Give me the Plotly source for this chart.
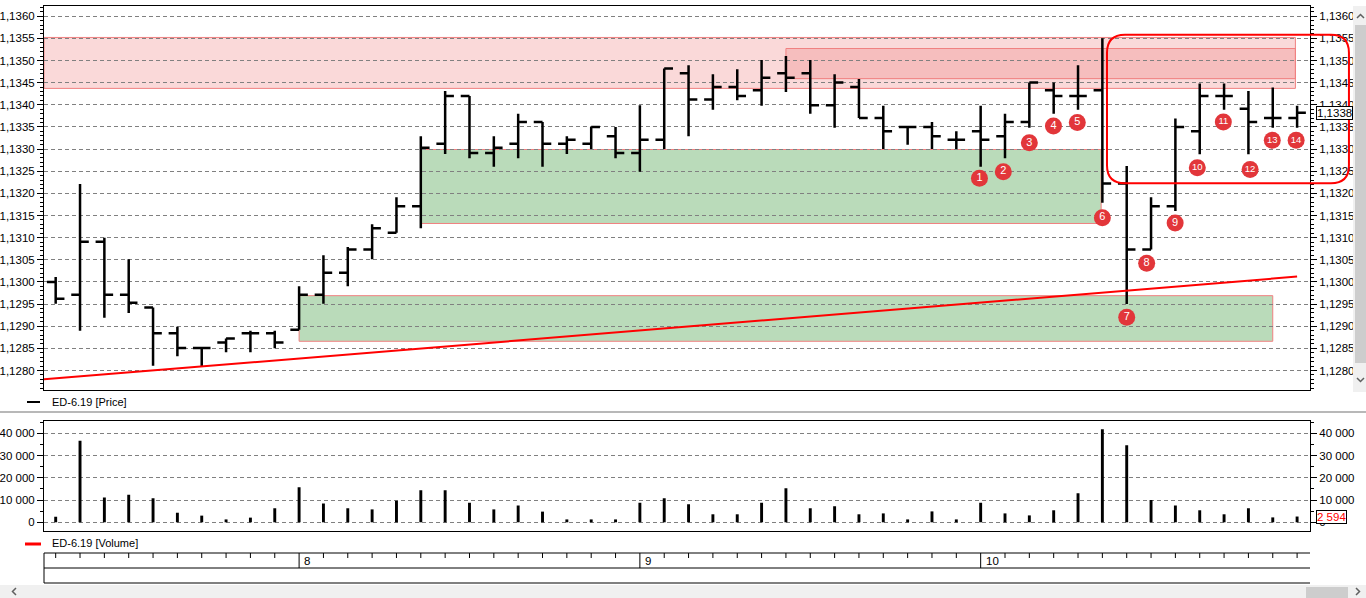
import plotly.graph_objects as go

# ---------------- data (hourly bars, ED-6.19) ----------------
bar_index = list(range(52))
opens = [1.13000, 1.12971, 1.13091, 1.12971, 1.12942, 1.12884, 1.12851, 1.12863, 1.12884, 1.12884,
         1.12892, 1.12971, 1.13021, 1.13073, 1.13111, 1.13171, 1.13312, 1.13420, 1.13291, 1.13312,
         1.13361, 1.13312, 1.13312, 1.13329, 1.13291, 1.13321, 1.13471, 1.13412, 1.13440, 1.13433,
         1.13471, 1.13471, 1.13399, 1.13440, 1.13370, 1.13350, 1.13350, 1.13321, 1.13340, 1.13329,
         1.13361, 1.13433, 1.13420, 1.13433, 1.13222, 1.13073, 1.13171, 1.13340, 1.13420, 1.13391,
         1.13370, 1.13370]
highs = [1.13011, 1.13221, 1.13100, 1.13051, 1.12942, 1.12899, 1.12851, 1.12872, 1.12890, 1.12890,
         1.12990, 1.13060, 1.13079, 1.13130, 1.13191, 1.13329, 1.13431, 1.13420, 1.13329, 1.13380,
         1.13361, 1.13329, 1.13350, 1.13350, 1.13399, 1.13482, 1.13489, 1.13469, 1.13480, 1.13501,
         1.13510, 1.13501, 1.13469, 1.13458, 1.13398, 1.13350, 1.13361, 1.13340, 1.13398, 1.13380,
         1.13450, 1.13450, 1.13489, 1.13550, 1.13262, 1.13191, 1.13369, 1.13448, 1.13448, 1.13431,
         1.13439, 1.13398]
lows = [1.12951, 1.12890, 1.12919, 1.12930, 1.12811, 1.12832, 1.12808, 1.12841, 1.12841, 1.12850,
        1.12892, 1.12951, 1.12990, 1.13051, 1.13111, 1.13121, 1.13289, 1.13279, 1.13260, 1.13279,
        1.13260, 1.13289, 1.13300, 1.13279, 1.13249, 1.13300, 1.13329, 1.13389, 1.13410, 1.13398,
        1.13429, 1.13380, 1.13348, 1.13370, 1.13300, 1.13310, 1.13300, 1.13300, 1.13260, 1.13279,
        1.13348, 1.13380, 1.13389, 1.13179, 1.12950, 1.13073, 1.13160, 1.13288, 1.13389, 1.13288,
        1.13348, 1.13348]
closes = [1.12962, 1.13091, 1.12971, 1.12953, 1.12884, 1.12851, 1.12851, 1.12872, 1.12884, 1.12863,
          1.12971, 1.13021, 1.13073, 1.13121, 1.13171, 1.13303, 1.13420, 1.13291, 1.13303, 1.13361,
          1.13312, 1.13321, 1.13350, 1.13291, 1.13321, 1.13482, 1.13412, 1.13440, 1.13420, 1.13461,
          1.13461, 1.13399, 1.13450, 1.13370, 1.13340, 1.13350, 1.13329, 1.13321, 1.13321, 1.13361,
          1.13450, 1.13420, 1.13420, 1.13222, 1.13073, 1.13171, 1.13350, 1.13420, 1.13420, 1.13361,
          1.13370, 1.13382]
volumes = [2500, 36700, 11200, 12400, 10800, 4300, 3000, 1300, 2100, 6300,
           15700, 8400, 6300, 5800, 9700, 14400, 14400, 8800, 5800, 7500,
           4800, 1300, 1300, 1300, 8800, 10800, 8100, 3600, 3600, 8800,
           15300, 6300, 7200, 3600, 4000, 1300, 4900, 1300, 8800, 4000,
           3100, 5400, 13000, 41800, 34600, 10000, 7600, 5400, 3600, 6300,
           2200, 2594]
day_start_bars = [10, 24, 38]
day_labels = ["8", "9", "10"]

marker_x = [37.95, 38.93, 40.0, 40.99, 41.97, 43.0, 44.0, 44.82, 45.99, 46.9, 47.97, 49.07, 49.98, 50.96]
marker_y = [1.13234, 1.13249, 1.13314, 1.13352, 1.13360, 1.13145, 1.12920, 1.13042, 1.13133,
            1.13258, 1.13361, 1.13254, 1.13320, 1.13320]
marker_labels = ["1", "2", "3", "4", "5", "6", "7", "8", "9", "10", "11", "12", "13", "14"]

trend_x = [-0.48, 51.0]
trend_y = [1.12780, 1.13012]

# zones: (x0, x1, y0, y1)
resist_zone = (-0.48, 50.93, 1.13437, 1.13552)
resist_zone_inner = (30.0, 50.93, 1.13459, 1.13527)
support_zone_1 = (15.0, 42.95, 1.13132, 1.13299)
support_zone_2 = (10.0, 50.0, 1.12866, 1.12969)
highlight_box = (43.19, 53.13, 1.13223, 1.13558)

last_price = 1.13382
last_price_text = "1,1338"
last_volume_text = "2 594"

# ---------------- layout geometry ----------------
W, H = 1366, 598
ML, MR, MT, MB = 44, 56, 6, 67
PW, PH = W - ML - MR, H - MT - MB
X_RANGE = [-0.48, 51.53]
PRICE_RANGE = [1.12756, 1.13623]
VOL_RANGE = [-3910, 45660]


def px_x(px):
    return (px - ML) / PW


def px_y(py):
    return (H - MB - py) / PH


price_dom = [px_y(390), 1.0]
vol_dom = [0.0, px_y(420.7)]

FONT = "Liberation Sans, Arial, sans-serif"
GRID = "#808080"

fig = go.Figure()

fig.add_trace(go.Ohlc(
    x=bar_index, open=opens, high=highs, low=lows, close=closes,
    increasing=dict(line=dict(color="black", width=2.5)),
    decreasing=dict(line=dict(color="black", width=2.5)),
    line=dict(width=2.5), tickwidth=0.36,
    xaxis="x", yaxis="y", hoverinfo="skip", showlegend=False))

fig.add_trace(go.Scatter(
    x=trend_x, y=trend_y, mode="lines", line=dict(color="#ff0000", width=2),
    xaxis="x", yaxis="y", hoverinfo="skip", showlegend=False))

fig.add_trace(go.Scatter(
    x=marker_x, y=marker_y, mode="markers+text", text=marker_labels,
    textposition="middle center",
    textfont=dict(color="white", size=[11 if len(t) == 1 else 9.5 for t in marker_labels], family=FONT),
    marker=dict(size=17, color="#e2363a", line=dict(width=0)),
    xaxis="x", yaxis="y", hoverinfo="skip", showlegend=False, cliponaxis=False))

fig.add_trace(go.Scatter(
    x=[bar_index[-1]], y=[closes[-1]], mode="markers", marker=dict(opacity=0),
    xaxis="x", yaxis="y3", hoverinfo="skip", showlegend=False))

fig.add_trace(go.Bar(
    x=bar_index, y=volumes, width=0.12, marker=dict(color="black", line=dict(width=0)),
    xaxis="x2", yaxis="y2", hoverinfo="skip", showlegend=False))

fig.add_trace(go.Scatter(
    x=[bar_index[-1]], y=[volumes[-1]], mode="markers", marker=dict(opacity=0),
    xaxis="x2", yaxis="y4", hoverinfo="skip", showlegend=False))

tickfont = dict(family=FONT, size=11.5, color="black")

price_axis_common = dict(
    range=PRICE_RANGE, tickformat=".4f", tick0=1.128, dtick=0.0005,
    ticks="outside", ticklen=6, tickcolor="black", tickwidth=1,
    minor=dict(dtick=0.0001, tick0=1.128, ticks="outside", ticklen=3, tickcolor="black", showgrid=False),
    showline=True, linecolor="black", linewidth=1, zeroline=False, automargin=False,
    tickfont=tickfont, fixedrange=True)

vol_axis_common = dict(
    range=VOL_RANGE, tickformat=",d", tick0=0, dtick=10000,
    ticks="outside", ticklen=6, tickcolor="black", tickwidth=1,
    minor=dict(dtick=5000, tick0=0, ticks="outside", ticklen=3, tickcolor="black", showgrid=False),
    showline=True, linecolor="black", linewidth=1, zeroline=False, automargin=False,
    tickfont=tickfont, fixedrange=True)

fig.update_layout(
    width=W, height=H,
    margin=dict(l=ML, r=MR, t=MT, b=MB, pad=0, autoexpand=False),
    paper_bgcolor="white", plot_bgcolor="white",
    separators=", ",
    showlegend=False, hovermode=False, dragmode=False,
    font=dict(family=FONT, size=11.5, color="black"),
    xaxis=dict(domain=[0, 1], range=X_RANGE, anchor="y", showline=True, mirror=True,
               linecolor="black", linewidth=1, showticklabels=False, ticks="", automargin=False,
               showgrid=False, zeroline=False, rangeslider=dict(visible=False), fixedrange=True),
    xaxis2=dict(domain=[0, 1], range=X_RANGE, anchor="y2", matches="x", showline=True, mirror=True,
                linecolor="black", linewidth=1, showticklabels=False, ticks="", automargin=False,
                showgrid=False, zeroline=False, fixedrange=True),
    yaxis=dict(domain=price_dom, anchor="x", side="left", showgrid=True, gridcolor=GRID,
               griddash="4px,3px", gridwidth=1, **price_axis_common),
    yaxis3=dict(overlaying="y", anchor="x", side="right", showgrid=False, **price_axis_common),
    yaxis2=dict(domain=vol_dom, anchor="x2", side="left", showgrid=True, gridcolor=GRID,
                griddash="4px,3px", gridwidth=1, **vol_axis_common),
    yaxis4=dict(overlaying="y2", anchor="x2", side="right", showgrid=False, **vol_axis_common),
)

shapes = []


def zone(z, fill, lw=1):
    x0, x1, y0, y1 = z
    return dict(type="rect", xref="x", yref="y", x0=x0, x1=x1, y0=y0, y1=y1,
                fillcolor=fill, line=dict(color="#f08080", width=lw), layer="below")


shapes.append(zone(resist_zone, "rgba(240,128,128,0.3)"))
shapes.append(zone(resist_zone_inner, "rgba(240,128,128,0.3)"))
shapes.append(zone(support_zone_1, "rgb(186,219,186)"))
shapes.append(zone(support_zone_2, "rgb(186,219,186)"))


# highlight rounded rectangle (extends past the plot area -> paper coords)
def to_px(x):
    return (x - X_RANGE[0]) / (X_RANGE[1] - X_RANGE[0])


def to_py(y):
    return price_dom[0] + (y - PRICE_RANGE[0]) / (PRICE_RANGE[1] - PRICE_RANGE[0]) * (price_dom[1] - price_dom[0])


hx0, hx1 = to_px(highlight_box[0]), to_px(highlight_box[1])
hy0, hy1 = to_py(highlight_box[2]), to_py(highlight_box[3])
rx, ry = 18 / PW, 18 / PH
path = (f"M {hx0+rx},{hy1} L {hx1-rx},{hy1} Q {hx1},{hy1} {hx1},{hy1-ry} "
        f"L {hx1},{hy0+ry} Q {hx1},{hy0} {hx1-rx},{hy0} L {hx0+rx},{hy0} "
        f"Q {hx0},{hy0} {hx0},{hy0+ry} L {hx0},{hy1-ry} Q {hx0},{hy1} {hx0+rx},{hy1} Z")
shapes.append(dict(type="path", xref="paper", yref="paper", path=path,
                   line=dict(color="#ff0000", width=2), layer="above"))

# separator line
shapes.append(dict(type="line", xref="paper", yref="paper", x0=px_x(0), x1=px_x(W),
                   y0=px_y(412), y1=px_y(412), line=dict(color="#a0a0a0", width=1.5)))

# legend dashes
shapes.append(dict(type="line", xref="paper", yref="paper", x0=px_x(27), x1=px_x(40),
                   y0=px_y(402), y1=px_y(402), line=dict(color="black", width=2)))
shapes.append(dict(type="line", xref="paper", yref="paper", x0=px_x(25), x1=px_x(41),
                   y0=px_y(544), y1=px_y(544), line=dict(color="#ff0000", width=3)))

# time axis panel
t_top, t_mid, t_bot = px_y(553), px_y(568), px_y(583)
for yy in (t_top, t_mid, t_bot):
    shapes.append(dict(type="line", xref="paper", yref="paper", x0=0, x1=1, y0=yy, y1=yy,
                       line=dict(color="black", width=1)))
shapes.append(dict(type="line", xref="paper", yref="paper", x0=0, x1=0, y0=t_top, y1=t_bot,
                   line=dict(color="black", width=1)))
for b in bar_index:
    is_day = b in day_start_bars
    shapes.append(dict(type="line", xref="x", yref="paper", x0=b, x1=b, y0=t_top,
                       y1=t_mid if is_day else px_y(558), line=dict(color="black", width=1)))

# scrollbars
shapes.append(dict(type="rect", xref="paper", yref="paper", x0=px_x(1353), x1=px_x(1366),
                   y0=px_y(392), y1=px_y(6), fillcolor="#f0f0f0", line=dict(width=0)))
shapes.append(dict(type="rect", xref="paper", yref="paper", x0=px_x(1355), x1=px_x(1366),
                   y0=px_y(363), y1=px_y(25), fillcolor="#cdcdcd", line=dict(width=0)))
shapes.append(dict(type="rect", xref="paper", yref="paper", x0=px_x(0), x1=px_x(1366),
                   y0=px_y(598), y1=px_y(585), fillcolor="#f0f0f0", line=dict(width=0)))
shapes.append(dict(type="rect", xref="paper", yref="paper", x0=px_x(1306), x1=px_x(1348),
                   y0=px_y(598), y1=px_y(587), fillcolor="#cdcdcd", line=dict(width=0)))


def chevron(pts):
    p = "M " + " L ".join(f"{px_x(a)},{px_y(b)}" for a, b in pts)
    return dict(type="path", xref="paper", yref="paper", path=p,
                line=dict(color="#606060", width=1.5))


shapes.append(chevron([(1357, 18), (1360.5, 14.5), (1364, 18)]))
shapes.append(chevron([(1357, 378), (1360.5, 381.5), (1364, 378)]))
shapes.append(chevron([(16, 588), (12.5, 591.5), (16, 595)]))
shapes.append(chevron([(1356, 588), (1359.5, 591.5), (1356, 595)]))

fig.update_layout(shapes=shapes)

annotations = [
    dict(xref="paper", yref="paper", x=px_x(50), y=px_y(402), text="ED-6.19 [Price]",
         showarrow=False, xanchor="left", yanchor="middle", font=dict(size=11, family=FONT)),
    dict(xref="paper", yref="paper", x=px_x(50), y=px_y(543), text="ED-6.19 [Volume]",
         showarrow=False, xanchor="left", yanchor="middle", font=dict(size=11, family=FONT)),
    dict(xref="paper", yref="y", x=px_x(1316), y=last_price, text=last_price_text,
         showarrow=False, xanchor="left", yanchor="middle", bgcolor="white",
         bordercolor="black", borderwidth=1, borderpad=0, font=dict(size=11.5, family=FONT)),
    dict(xref="paper", yref="y2", x=px_x(1316), y=volumes[-1], text=last_volume_text,
         showarrow=False, xanchor="left", yanchor="middle", bgcolor="white",
         bordercolor="black", borderwidth=1, borderpad=0, font=dict(size=11.5, family=FONT, color="#ff0000")),
]
for b, lab in zip(day_start_bars, day_labels):
    annotations.append(dict(xref="x", yref="paper", x=b, y=px_y(561), text=lab, showarrow=False,
                            xanchor="left", yanchor="middle", xshift=3, font=dict(size=11.5, family=FONT)))
fig.update_layout(annotations=annotations)

fig.write_html("out.html", config={"displayModeBar": False, "staticPlot": True})
